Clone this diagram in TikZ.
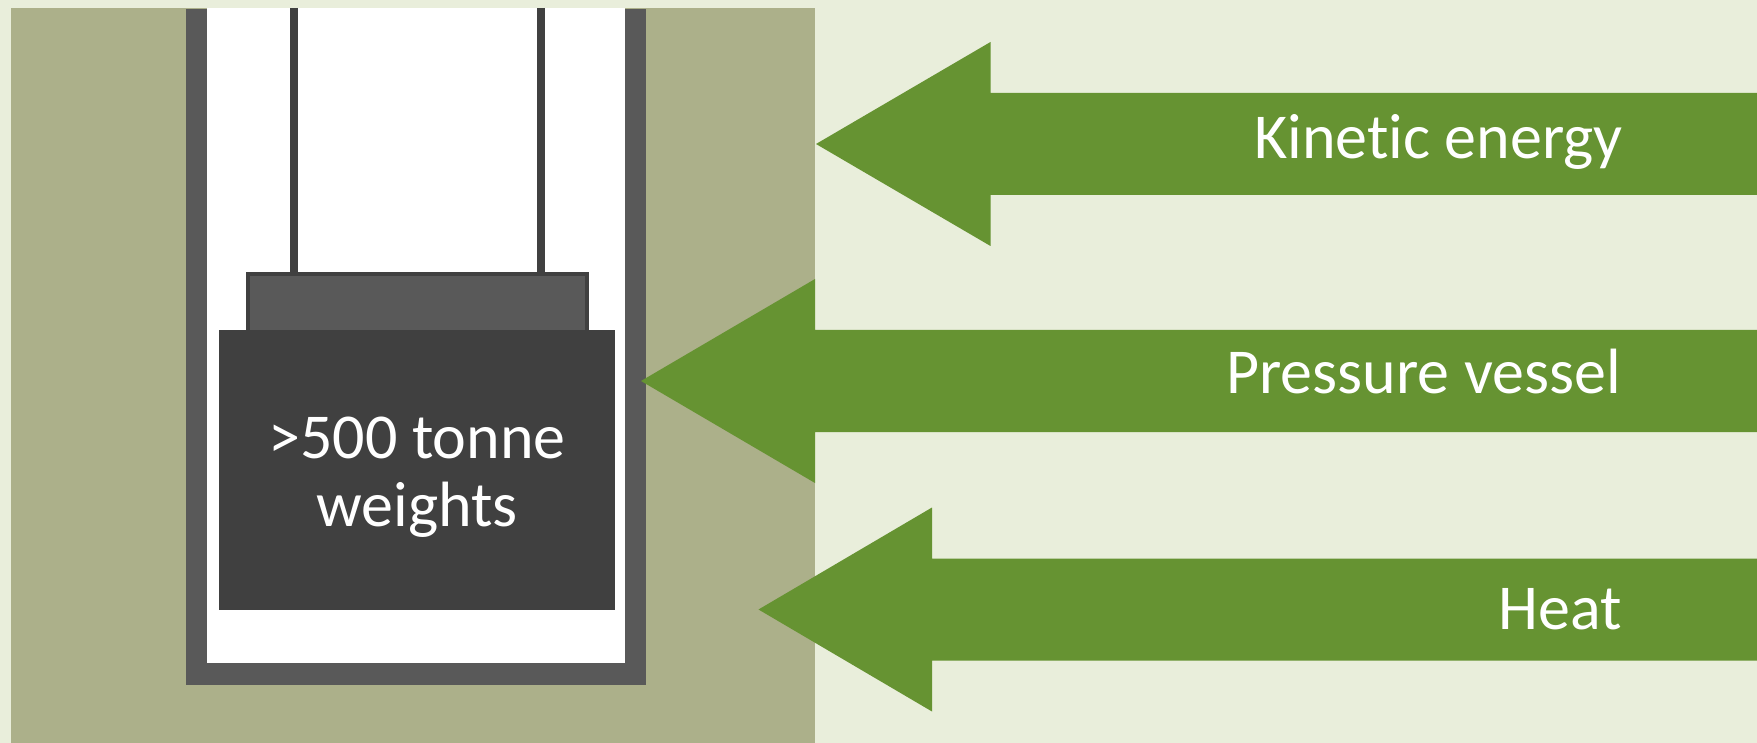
\documentclass[tikz,border=0pt]{standalone}
\usepackage{fontspec}
\setmainfont[Ligatures=CommonOff]{Carlito}
\definecolor{my_pale}{HTML}{E9EEDB}
\definecolor{my_ground}{HTML}{ACB08A}
\definecolor{my_wall}{HTML}{595959}
\definecolor{my_dark}{HTML}{404040}
\definecolor{my_green}{HTML}{669332}
\newcommand{\flowarrow}[3]{%
    \fill[my_green] (#1, #3) -- (#2, #3-102) -- (#2, #3-51) -- (1757, #3-51)
        -- (1757, #3+51) -- (#2, #3+51) -- (#2, #3+102) -- cycle;
}

\begin{document}
\begin{tikzpicture}[
    x=1pt, y=-1pt,
    label/.style={text=white, font=\fontsize{64}{68.5}\selectfont, inner sep=0pt},
    rope/.style={my_dark, line width=8pt}
]
\useasboundingbox (0, 0) rectangle (1757, 743);

% ---- Umgebung ----
\fill[my_pale] (0, 0) rectangle (1757, 743);
\fill[my_ground] (11, 8) rectangle (815, 743);

% ---- Schacht ----
\fill[white] (207, 8) rectangle (625, 663);
\fill[my_wall] (186, 9) rectangle (207, 685);
\fill[my_wall] (625, 9) rectangle (646, 685);
\fill[my_wall] (186, 663) rectangle (646, 685);

% ---- Seile und Gewichte ----
\draw[rope] (294, 8) -- (294, 272);
\draw[rope] (541, 8) -- (541, 272);
\draw[my_dark, line width=4pt, fill=my_wall] (248, 274) rectangle (587, 340);
\fill[my_dark] (219, 330) rectangle (615, 610);
\node[label, align=center] (weights) at (417, 477) {>500 tonne\\weights};

% ---- Pfeile ----
\flowarrow{816}{990.5}{144}
\flowarrow{641}{815}{381}
\flowarrow{758.5}{932}{609.5}
\node[label, anchor=base east] (kinetic) at (1623, 158.5) {Kinetic energy};
\node[label, anchor=base east] (pressure) at (1621, 393.5) {Pressure vessel};
\node[label, anchor=base east] (heat) at (1622, 629.5) {Heat};

\end{tikzpicture}
\end{document}
